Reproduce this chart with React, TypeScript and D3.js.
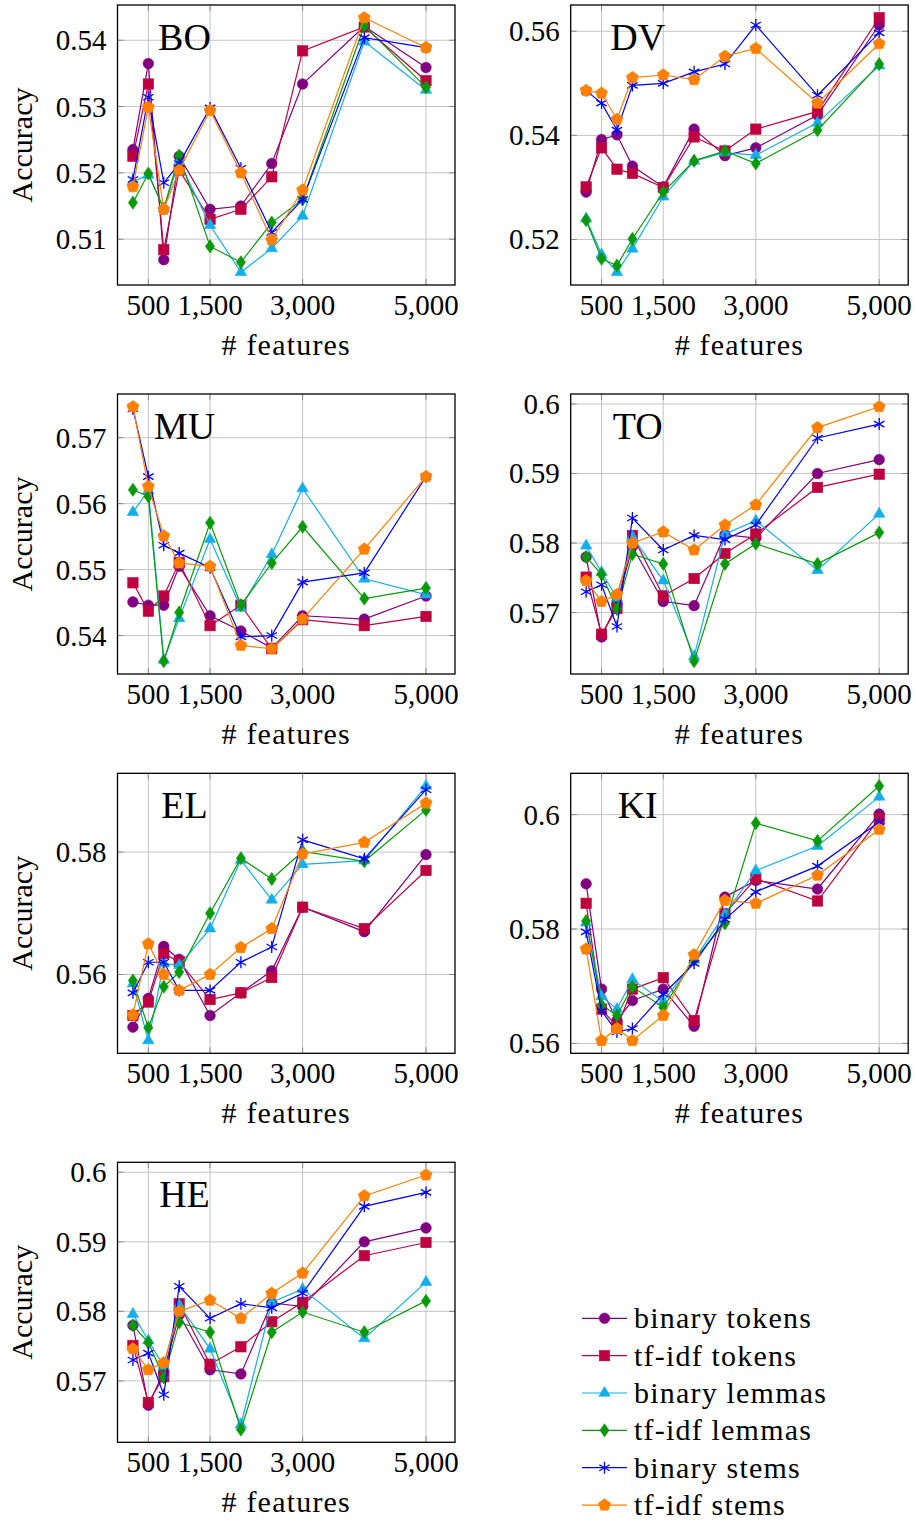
import React from "react";
import * as d3 from "d3";

// ---------- data ----------
const featureCounts = [250, 500, 750, 1000, 1500, 2000, 2500, 3000, 4000, 5000];
const xTickValues = [500, 1500, 3000, 5000];

const seriesLabels = ["binary tokens", "tf-idf tokens", "binary lemmas", "tf-idf lemmas", "binary stems", "tf-idf stems"];
const seriesColors = ["#800080", "#BF0040", "#14AEEA", "#0A990A", "#0000FF", "#FF8000"];
const seriesMarks = ["circle", "square", "triangle", "diamond", "asterisk", "pentagon"];

// rows follow seriesLabels order, columns follow featureCounts
const boValues = [
  [0.5235, 0.5365, 0.5069, 0.5225, 0.5145, 0.5150, 0.5214, 0.5334, 0.5421, 0.5359],
  [0.5225, 0.5334, 0.5084, 0.5204, 0.5130, 0.5145, 0.5194, 0.5384, 0.5420, 0.5339],
  [0.5187, 0.5197, 0.5146, 0.5217, 0.5121, 0.5050, 0.5086, 0.5135, 0.5398, 0.5325],
  [0.5155, 0.5199, 0.5146, 0.5226, 0.5089, 0.5065, 0.5125, 0.5160, 0.5422, 0.5329],
  [0.5190, 0.5314, 0.5185, 0.5214, 0.5298, 0.5207, 0.5110, 0.5160, 0.5404, 0.5389],
  [0.5179, 0.5299, 0.5145, 0.5204, 0.5294, 0.5200, 0.5099, 0.5174, 0.5434, 0.5389],
];
const boTicks = [0.51, 0.52, 0.53, 0.54];

const dvValues = [
  [0.5291, 0.5392, 0.5401, 0.5341, 0.5301, 0.5412, 0.5361, 0.5376, 0.5439, 0.5612],
  [0.5301, 0.5376, 0.5335, 0.5327, 0.5300, 0.5397, 0.5370, 0.5412, 0.5446, 0.5626],
  [0.5240, 0.5171, 0.5137, 0.5182, 0.5282, 0.5351, 0.5367, 0.5362, 0.5424, 0.5534],
  [0.5237, 0.5163, 0.5150, 0.5201, 0.5291, 0.5351, 0.5370, 0.5346, 0.5410, 0.5537],
  [0.5486, 0.5462, 0.5410, 0.5496, 0.5500, 0.5522, 0.5537, 0.5612, 0.5477, 0.5597],
  [0.5486, 0.5481, 0.5431, 0.5511, 0.5516, 0.5507, 0.5552, 0.5567, 0.5462, 0.5576],
];
const dvTicks = [0.52, 0.54, 0.56];

const muValues = [
  [0.5451, 0.5446, 0.5446, 0.5505, 0.5430, 0.5407, 0.5381, 0.5430, 0.5425, 0.5460],
  [0.5480, 0.5437, 0.5460, 0.5511, 0.5415, 0.5446, 0.5380, 0.5424, 0.5415, 0.5429],
  [0.5587, 0.5620, 0.5363, 0.5426, 0.5546, 0.5442, 0.5523, 0.5623, 0.5486, 0.5462],
  [0.5621, 0.5611, 0.5361, 0.5435, 0.5571, 0.5446, 0.5510, 0.5565, 0.5456, 0.5472],
  [0.5744, 0.5641, 0.5537, 0.5525, 0.5503, 0.5398, 0.5400, 0.5481, 0.5495, 0.5641],
  [0.5747, 0.5626, 0.5551, 0.5510, 0.5505, 0.5385, 0.5380, 0.5425, 0.5531, 0.5641],
];
const muTicks = [0.54, 0.55, 0.56, 0.57];

const toValues = [
  [0.5780, 0.5665, 0.5713, 0.5795, 0.5716, 0.5710, 0.5812, 0.5807, 0.5900, 0.5920],
  [0.5751, 0.5669, 0.5706, 0.5811, 0.5724, 0.5749, 0.5785, 0.5813, 0.5880, 0.5899],
  [0.5796, 0.5758, 0.5721, 0.5809, 0.5746, 0.5637, 0.5813, 0.5832, 0.5761, 0.5842],
  [0.5780, 0.5755, 0.5705, 0.5784, 0.5770, 0.5630, 0.5770, 0.5799, 0.5770, 0.5815],
  [0.5730, 0.5740, 0.5680, 0.5836, 0.5790, 0.5811, 0.5805, 0.5826, 0.5951, 0.5971],
  [0.5746, 0.5716, 0.5726, 0.5800, 0.5816, 0.5790, 0.5826, 0.5855, 0.5966, 0.5996],
];
const toTicks = [0.57, 0.58, 0.59, 0.6];

const elValues = [
  [0.5514, 0.5561, 0.5646, 0.5625, 0.5533, 0.5570, 0.5606, 0.5710, 0.5670, 0.5796],
  [0.5533, 0.5555, 0.5634, 0.5621, 0.5559, 0.5570, 0.5595, 0.5710, 0.5675, 0.5770],
  [0.5585, 0.5492, 0.5618, 0.5615, 0.5675, 0.5787, 0.5722, 0.5780, 0.5786, 0.5908],
  [0.5590, 0.5513, 0.5580, 0.5604, 0.5700, 0.5790, 0.5756, 0.5801, 0.5785, 0.5869],
  [0.5570, 0.5620, 0.5620, 0.5574, 0.5574, 0.5620, 0.5645, 0.5820, 0.5789, 0.5902],
  [0.5534, 0.5650, 0.5600, 0.5574, 0.5600, 0.5644, 0.5675, 0.5797, 0.5816, 0.5880],
];
const elTicks = [0.56, 0.58];

const kiValues = [
  [0.5879, 0.5695, 0.5640, 0.5675, 0.5695, 0.5630, 0.5856, 0.5885, 0.5870, 0.6001],
  [0.5845, 0.5660, 0.5629, 0.5695, 0.5715, 0.5640, 0.5827, 0.5888, 0.5849, 0.5993],
  [0.5811, 0.5682, 0.5660, 0.5712, 0.5673, 0.5746, 0.5826, 0.5902, 0.5945, 0.6031],
  [0.5814, 0.5667, 0.5649, 0.5699, 0.5663, 0.5746, 0.5810, 0.5985, 0.5954, 0.6050],
  [0.5795, 0.5657, 0.5620, 0.5626, 0.5686, 0.5740, 0.5817, 0.5865, 0.5910, 0.5987],
  [0.5765, 0.5605, 0.5626, 0.5605, 0.5649, 0.5755, 0.5850, 0.5845, 0.5894, 0.5974],
];
const kiTicks = [0.56, 0.58, 0.6];

const heValues = [
  [0.5780, 0.5665, 0.5713, 0.5795, 0.5716, 0.5710, 0.5812, 0.5807, 0.5900, 0.5920],
  [0.5751, 0.5669, 0.5706, 0.5811, 0.5724, 0.5749, 0.5785, 0.5813, 0.5880, 0.5899],
  [0.5796, 0.5758, 0.5721, 0.5809, 0.5746, 0.5637, 0.5813, 0.5832, 0.5761, 0.5842],
  [0.5780, 0.5755, 0.5705, 0.5784, 0.5770, 0.5630, 0.5770, 0.5799, 0.5770, 0.5815],
  [0.5730, 0.5740, 0.5680, 0.5836, 0.5790, 0.5811, 0.5805, 0.5826, 0.5951, 0.5971],
  [0.5746, 0.5716, 0.5726, 0.5800, 0.5816, 0.5790, 0.5826, 0.5855, 0.5966, 0.5996],
];
const heTicks = [0.57, 0.58, 0.59, 0.6];

const panelNames = ["BO", "DV", "MU", "TO", "EL", "KI", "HE"];
const panelValues = [boValues, dvValues, muValues, toValues, elValues, kiValues, heValues];
const panelTicks = [boTicks, dvTicks, muTicks, toTicks, elTicks, kiTicks, heTicks];

// ---------- layout ----------
const W = 916;
const H = 1522;
const colLeft = [117.5, 570.7];
const rowTop = [5, 394, 773.3, 1162.3];
const plotW = 337.5;
const plotH = 280;
const FONT = "'Liberation Serif', 'Times New Roman', serif";

const fmtX = d3.format(",");
const fmtY = (v: number) => String(+v.toFixed(3));

function Marker({ type, x, y, color }: { type: string; x: number; y: number; color: string }) {
  if (type === "circle") {
    return <circle cx={x} cy={y} r={5.3} fill={color} stroke={color} strokeWidth={0.6} />;
  }
  if (type === "square") {
    const s = 5.2;
    return <rect x={x - s} y={y - s} width={2 * s} height={2 * s} fill={color} stroke={color} strokeWidth={0.6} />;
  }
  if (type === "triangle") {
    const r = 6.6;
    const pts = [[x, y - r], [x + r * 0.866, y + r / 2], [x - r * 0.866, y + r / 2]];
    return <polygon points={pts.map((p) => p.join(",")).join(" ")} fill={color} stroke={color} strokeWidth={0.6} />;
  }
  if (type === "diamond") {
    const h = 6.6, w = 4.6;
    const pts = [[x, y - h], [x + w, y], [x, y + h], [x - w, y]];
    return <polygon points={pts.map((p) => p.join(",")).join(" ")} fill={color} stroke={color} strokeWidth={0.6} />;
  }
  if (type === "pentagon") {
    const r = 6.3;
    const pts = d3.range(5).map((k) => {
      const a = (-90 + k * 72) * Math.PI / 180;
      return [x + r * Math.cos(a), y + r * Math.sin(a)];
    });
    return <polygon points={pts.map((p) => p.join(",")).join(" ")} fill={color} stroke={color} strokeWidth={0.6} />;
  }
  // asterisk
  const r = 6;
  const d = [90, 30, 150]
    .map((deg) => {
      const a = deg * Math.PI / 180;
      const dx = r * Math.cos(a), dy = r * Math.sin(a);
      return `M${x - dx},${y - dy}L${x + dx},${y + dy}`;
    })
    .join("");
  return <path d={d} stroke={color} strokeWidth={1.3} fill="none" />;
}

function Panel({ idx }: { idx: number }) {
  const name = panelNames[idx];
  const values = panelValues[idx];
  const ticks = panelTicks[idx];
  const col = idx % 2;
  const row = Math.floor(idx / 2);
  const left = colLeft[col];
  const top = rowTop[row];

  const all = values.flat();
  const [lo, hi] = d3.extent(all) as [number, number];
  const pad = (hi - lo) * 0.05;

  const x = d3.scaleLinear().domain([0, 5470]).range([left, left + plotW]);
  const y = d3.scaleLinear().domain([lo - pad, hi + pad]).range([top + plotH, top]);
  const line = d3
    .line<number>()
    .x((_, i) => x(featureCounts[i]))
    .y((v) => y(v));

  const bottom = top + plotH;
  const right = left + plotW;
  const tickLen = 6;

  return (
    <g>
      {/* grid */}
      {xTickValues.map((t) => (
        <line key={"gx" + t} x1={x(t)} x2={x(t)} y1={top} y2={bottom} stroke="#c4c4c4" strokeWidth={1} />
      ))}
      {ticks.map((t) => (
        <line key={"gy" + t} x1={left} x2={right} y1={y(t)} y2={y(t)} stroke="#c4c4c4" strokeWidth={1} />
      ))}
      {/* tick marks */}
      {xTickValues.map((t) => (
        <g key={"tx" + t} stroke="#8a8a8a" strokeWidth={1}>
          <line x1={x(t)} x2={x(t)} y1={bottom} y2={bottom - tickLen} />
          <line x1={x(t)} x2={x(t)} y1={top} y2={top + tickLen} />
        </g>
      ))}
      {ticks.map((t) => (
        <g key={"ty" + t} stroke="#8a8a8a" strokeWidth={1}>
          <line x1={left} x2={left + tickLen} y1={y(t)} y2={y(t)} />
          <line x1={right} x2={right - tickLen} y1={y(t)} y2={y(t)} />
        </g>
      ))}
      {/* series */}
      {values.map((vals, s) => (
        <g key={"s" + s}>
          <path d={line(vals) || ""} fill="none" stroke={seriesColors[s]} strokeWidth={1.2} />
          {vals.map((v, i) => (
            <Marker key={i} type={seriesMarks[s]} x={x(featureCounts[i])} y={y(v)} color={seriesColors[s]} />
          ))}
        </g>
      ))}
      {/* frame */}
      <rect x={left} y={top} width={plotW} height={plotH} fill="none" stroke="#000" strokeWidth={1.3} />
      {/* title */}
      <text x={left + 67} y={top + 45} textAnchor="middle" fontSize={38} fontFamily={FONT} fill="#000">
        {name}
      </text>
      {/* x tick labels */}
      {xTickValues.map((t) => (
        <text key={"lx" + t} x={x(t)} y={bottom + 30} textAnchor="middle" fontSize={29} fontFamily={FONT} fill="#000">
          {fmtX(t)}
        </text>
      ))}
      <text x={left + plotW / 2} y={bottom + 70} textAnchor="middle" fontSize={30} fontFamily={FONT} fill="#000" letterSpacing={1.2}>
        # features
      </text>
      {/* y tick labels */}
      {ticks.map((t) => (
        <text key={"ly" + t} x={left - 11} y={y(t) + 10} textAnchor="end" fontSize={29} fontFamily={FONT} fill="#000">
          {fmtY(t)}
        </text>
      ))}
      {col === 0 && (
        <text
          transform={`translate(32, ${top + plotH / 2}) rotate(-90)`}
          textAnchor="middle"
          fontSize={30}
          fontFamily={FONT}
          fill="#000"
        >
          Accuracy
        </text>
      )}
    </g>
  );
}

function Legend() {
  const x0 = 582;
  const y0 = 1318.3;
  const step = 37.35;
  return (
    <g>
      {seriesLabels.map((label, i) => {
        const cy = y0 + i * step;
        return (
          <g key={label}>
            <line x1={x0} x2={x0 + 45} y1={cy} y2={cy} stroke={seriesColors[i]} strokeWidth={1.2} />
            <Marker type={seriesMarks[i]} x={x0 + 22.5} y={cy} color={seriesColors[i]} />
            <text x={x0 + 52} y={cy + 10} fontSize={30} fontFamily={FONT} fill="#000" letterSpacing={1.2}>
              {label}
            </text>
          </g>
        );
      })}
    </g>
  );
}

export default function App() {
  return (
    <div style={{ position: "absolute", left: 0, top: 0, width: W, height: H, background: "#fff" }}>
      <svg width={W} height={H} viewBox={`0 0 ${W} ${H}`} style={{ display: "block" }}>
        <rect x={0} y={0} width={W} height={H} fill="#fff" />
        {panelNames.map((_, i) => (
          <Panel key={i} idx={i} />
        ))}
        <Legend />
      </svg>
    </div>
  );
}
